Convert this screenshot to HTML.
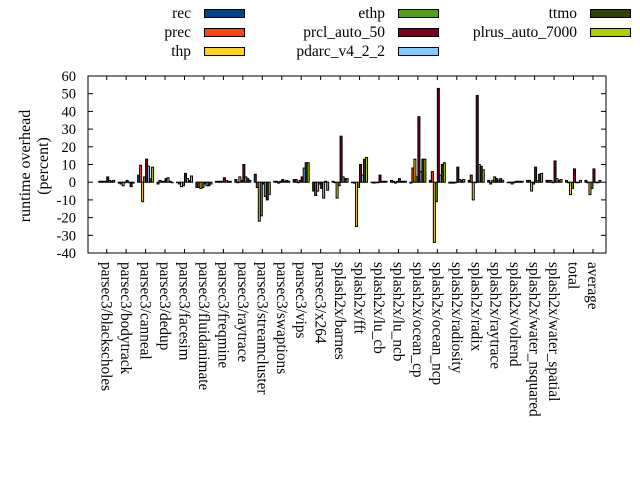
<!DOCTYPE html>
<html><head><meta charset="utf-8"><style>
body{margin:0;background:#fff}
svg{display:block;font-family:"Liberation Serif",serif}
</style></head><body>
<svg id="s" width="640" height="480" viewBox="0 0 640 480" xmlns="http://www.w3.org/2000/svg">
<rect width="640" height="480" fill="#fff"/>
<g font-size="15.5" fill="#000">
<text x="191" y="18" text-anchor="end">rec</text>
<text x="191" y="37" text-anchor="end">prec</text>
<text x="191" y="56" text-anchor="end">thp</text>
<text x="385" y="18" text-anchor="end">ethp</text>
<text x="385" y="37" text-anchor="end">prcl_auto_50</text>
<text x="385" y="56" text-anchor="end">pdarc_v4_2_2</text>
<text x="577" y="18" text-anchor="end">ttmo</text>
<text x="577" y="37" text-anchor="end">plrus_auto_7000</text>
</g>
<g stroke="#000" stroke-width="1">
<rect x="204.5" y="9.5" width="40" height="8" fill="#004586"/>
<rect x="204.5" y="28.5" width="40" height="8" fill="#ff420e"/>
<rect x="204.5" y="47.5" width="40" height="8" fill="#ffd320"/>
<rect x="398.5" y="9.5" width="40" height="8" fill="#579d1c"/>
<rect x="398.5" y="28.5" width="40" height="8" fill="#7e0021"/>
<rect x="398.5" y="47.5" width="40" height="8" fill="#83caff"/>
<rect x="590.5" y="9.5" width="40" height="8" fill="#314004"/>
<rect x="590.5" y="28.5" width="40" height="8" fill="#aecf00"/>
</g>
<g id="bars" stroke="#000" stroke-width="1"></g>
<g id="ax" stroke="#000" stroke-width="1" fill="none"></g>
<g id="lab" font-size="14.5" fill="#000"></g>
<g id="xl" font-size="15.3" fill="#000"></g>
<text transform="translate(30,166) rotate(-90)" text-anchor="middle" font-size="16">runtime overhead</text>
<text transform="translate(48,166) rotate(-90)" text-anchor="middle" font-size="16">(percent)</text>
</svg>
<script>
var NS="http://www.w3.org/2000/svg";
function el(p,t,a,txt){var e=document.createElementNS(NS,t);for(var k in a)e.setAttribute(k,a[k]);if(txt)e.textContent=txt;p.appendChild(e);return e;}
var cols=["#004586","#ff420e","#ffd320","#579d1c","#7e0021","#83caff","#314004","#aecf00"];
var names=["parsec3/blackscholes","parsec3/bodytrack","parsec3/canneal","parsec3/dedup","parsec3/facesim","parsec3/fluidanimate","parsec3/freqmine","parsec3/raytrace","parsec3/streamcluster","parsec3/swaptions","parsec3/vips","parsec3/x264","splash2x/barnes","splash2x/fft","splash2x/lu_cb","splash2x/lu_ncb","splash2x/ocean_cp","splash2x/ocean_ncp","splash2x/radiosity","splash2x/radix","splash2x/raytrace","splash2x/volrend","splash2x/water_nsquared","splash2x/water_spatial","total","average"];
var d=[[0.5,0.5,0.5,0.5,3,1,0.5,1],[-0.5,-1,-2,0,1,0,-2.5,-0.5],[4,9.6,-11,3,13,9,2,8.5],[-1,1,0.5,0.5,2,2.5,0.5,0],[0,-1,-2.5,-2,5,2,1,3.5],[-3,-3,-3.5,-3,-1,-2,-2,-1],[0.5,0.5,0.5,0.5,2.5,1,0.5,0.5],[1.5,0,3,1,10,3,2,1],[4.5,-3,-22,-19,-1,-8,-10,-7],[0.5,0.5,-0.5,0.5,1.5,0.5,1,0.5],[1.5,1.5,0,1,3,8,11,11],[-5,-7.5,-5,-1,-3.5,-9,0.5,-4.5],[0.5,0,-9,-2,26,3,2,2],[0,-0.5,-25,-3,10,4,13,14],[0,-0.5,0,0,4,0.5,0.5,0.5],[1,0.5,-0.5,0.5,2,0.5,0.5,0.5],[-0.5,8,13,3,37,6,13,13],[1,6,-34,-11,53,4,10,11],[-0.5,-0.5,-0.5,0,8.5,1.5,1,1.5],[1,4,-10,0,49,10,9,7],[1,-1,1,3,2,1,2,1],[0,0,-1,0,0.5,0.5,0.5,0.5],[1,1,-5,-1,8.5,1,4.5,5],[1,1,1,0,12,2,1,1.5],[1,0,-7,-3.5,7.5,0,0,1],[1,0,-7,-3.5,7.5,0,0,1]];
var L=88,R=606,T=76,B=253;
function yv(v){return T+(60-v)*1.77;}
var bars=document.getElementById("bars"),ax=document.getElementById("ax"),lab=document.getElementById("lab"),xl=document.getElementById("xl");
for(var i=0;i<26;i++){var c=106.7+19.45*i;
 for(var j=0;j<8;j++){var v=d[i][j];var x=c-8+2*j;var y1=yv(Math.max(v,0)),y2=yv(Math.min(v,0));
  el(bars,"rect",{x:x,y:y1,width:2,height:Math.max(y2-y1,0.5),fill:cols[j]});}
 el(ax,"line",{x1:c,y1:T,x2:c,y2:T+4});el(ax,"line",{x1:c,y1:B,x2:c,y2:B-4});
 el(xl,"text",{transform:"translate("+(c-5)+",262) rotate(90)"},names[i]);
}
for(var v=-40;v<=60;v+=10){var y=yv(v);el(ax,"line",{x1:L,y1:y,x2:L+5,y2:y});el(ax,"line",{x1:R,y1:y,x2:R-5,y2:y});
 el(lab,"text",{x:76,y:y+5,"text-anchor":"end"},String(v));}
el(ax,"rect",{x:L,y:T,width:R-L,height:B-T});
</script>
</body></html>
